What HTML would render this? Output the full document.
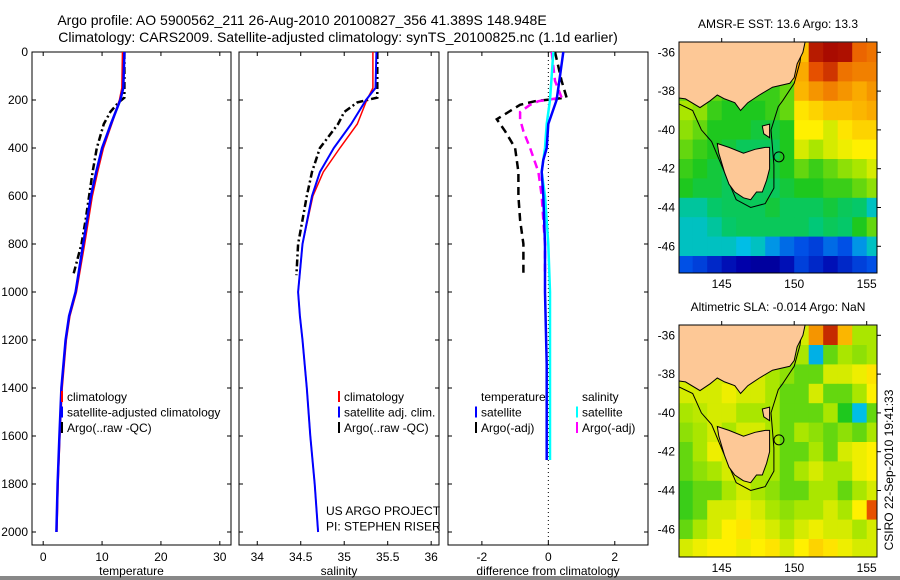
<!DOCTYPE html>
<html><head><meta charset="utf-8"><style>
body{margin:0;background:#fff;}
svg{display:block;font-family:"Liberation Sans",sans-serif;}
text{font-size:12px;fill:#000;}
</style></head><body>
<svg id="fig" width="900" height="580" viewBox="0 0 900 580" xmlns="http://www.w3.org/2000/svg">
<rect x="0" y="0" width="900" height="580" fill="#fff"/>
<text x="302" y="25" text-anchor="middle" style="font-size:14px">Argo profile: AO 5900562_211 26-Aug-2010 20100827_356 41.389S 148.948E</text>
<text x="338" y="42" text-anchor="middle" style="font-size:14px">Climatology: CARS2009. Satellite-adjusted climatology: synTS_20100825.nc (1.1d earlier)</text>
<rect x="0" y="576" width="900" height="4" fill="#888"/>
</svg>
<script>
// ---- data ----
const depthTicks=[0,200,400,600,800,1000,1200,1400,1600,1800,2000];
const tempTicks=[0,10,20,30];
const salTicks=[34,34.5,35,35.5,36];
const diffTicks=[-2,0,2];
const climDepth=[0,150,200,300,400,500,600,800,1000,1100,1200,1400,1600,1800,2000];
const climTemp=[13.5,13.4,13.0,11.6,10.2,9.2,8.3,7.0,5.6,4.5,3.9,3.2,2.8,2.5,2.3];
const satTemp=[13.8,13.6,13.1,11.5,10.0,9.0,8.1,6.8,5.5,4.4,3.8,3.1,2.75,2.45,2.25];
const climSal=[35.33,35.33,35.26,35.15,34.95,34.76,34.64,34.52,34.47,34.49,34.52,34.57,34.61,34.66,34.70];
const satSal=[35.37,35.36,35.25,35.08,34.88,34.72,34.63,34.52,34.47,34.49,34.52,34.57,34.61,34.66,34.70];
const argoDepth=[0,100,190,210,250,300,400,500,600,700,800,930];
const argoTemp=[13.8,13.8,13.8,12.8,11.4,10.3,9.1,8.4,7.8,7.2,6.5,5.1];
const argoSal=[35.38,35.38,35.38,35.15,35.0,34.93,34.72,34.63,34.57,34.52,34.47,34.45];
const difDepth=[0,100,200,300,400,450,500,600,800,1000,1300,1700];
const difSatT=[0.45,0.35,0.25,0.0,-0.05,-0.15,-0.2,-0.15,-0.1,-0.1,-0.05,-0.05];
const difSatS=[0.15,0.1,0.05,-0.05,-0.1,-0.15,-0.2,-0.1,0.0,0.05,0.05,0.05];
const difArgoDepth=[0,60,120,190,205,220,250,280,330,400,500,600,700,800,930];
const difArgoT=[0.2,0.3,0.4,0.55,-0.4,-0.85,-1.2,-1.55,-1.3,-1.0,-0.9,-0.9,-0.85,-0.75,-0.75];
const difArgoS=[0.1,0.15,0.2,0.4,-0.3,-0.55,-0.85,-0.85,-0.75,-0.55,-0.3,-0.2,-0.15,-0.1,-0.1];
const mapLon=[142,143,144,145,146,147,148,149,150,151,152,153,154,155];
const mapLat=[-35.5,-36.5,-37.5,-38.5,-39.5,-40.5,-41.5,-42.5,-43.5,-44.5,-45.5,-46.5];
const sstGrid=[
[.5,.5,.5,.5,.5,.5,.5,.5,.68,.95,.98,.97,.82,.8],
[.5,.5,.5,.5,.5,.5,.5,.55,.72,.85,.9,.8,.78,.78],
[.45,.45,.45,.42,.42,.42,.42,.45,.7,.75,.78,.75,.72,.75],
[.5,.48,.42,.4,.4,.4,.42,.45,.62,.65,.68,.68,.7,.72],
[.48,.45,.4,.4,.4,.38,.38,.4,.6,.6,.55,.62,.65,.65],
[.45,.42,.4,.38,.36,.36,.36,.4,.55,.5,.55,.58,.6,.6],
[.42,.4,.38,.36,.36,.36,.38,.4,.45,.42,.45,.48,.5,.55],
[.4,.38,.38,.36,.36,.36,.36,.38,.4,.4,.42,.42,.45,.48],
[.32,.32,.35,.36,.36,.36,.38,.36,.36,.36,.38,.36,.35,.3],
[.3,.3,.32,.35,.36,.36,.36,.36,.36,.34,.36,.35,.4,.45],
[.3,.3,.3,.3,.28,.3,.25,.22,.2,.18,.22,.2,.25,.3],
[.2,.18,.15,.12,.1,.08,.08,.12,.18,.15,.12,.15,.18,.2]];
const slaGrid=[
[.5,.5,.5,.5,.5,.5,.5,.5,.55,.75,.92,.7,.5,.5],
[.5,.5,.5,.5,.5,.5,.5,.5,.5,.27,.45,.5,.48,.5],
[.55,.58,.55,.55,.6,.55,.5,.48,.45,.45,.55,.55,.58,.62],
[.55,.55,.55,.58,.55,.55,.5,.45,.45,.55,.45,.45,.5,.6],
[.5,.52,.55,.55,.5,.5,.5,.45,.45,.45,.5,.4,.28,.45],
[.48,.5,.55,.5,.55,.55,.5,.45,.5,.48,.45,.48,.45,.5],
[.45,.5,.58,.55,.55,.55,.5,.45,.45,.5,.45,.55,.58,.6],
[.45,.48,.5,.55,.5,.5,.5,.45,.5,.55,.5,.5,.58,.6],
[.42,.45,.45,.5,.55,.5,.48,.45,.45,.5,.5,.45,.5,.55],
[.42,.45,.55,.55,.58,.55,.5,.48,.5,.5,.55,.5,.6,.85],
[.45,.5,.55,.6,.62,.58,.55,.5,.55,.58,.55,.55,.5,.55],
[.55,.58,.6,.6,.58,.6,.62,.55,.6,.65,.62,.58,.55,.55]];
const mainlandLon=[150.8,150.6,150.2,150,149.7,148.5,147.6,146.8,146.3,145.9,145.2,144.7,144.2,143.5,142.5,141.5,141.5];
const mainlandLat=[-35.3,-36,-36.6,-37.3,-37.6,-37.8,-38.2,-38.6,-39,-38.6,-38.4,-38.2,-38.5,-38.85,-38.4,-38.3,-35.3];
const tasLon=[144.7,145.5,146.5,147.3,148.0,148.3,148.3,148.1,147.8,147.4,147.0,146.5,145.9,145.5,145.2,144.8];
const tasLat=[-40.7,-40.9,-41.2,-41.0,-40.9,-40.9,-42.0,-42.6,-43.2,-43.2,-43.6,-43.5,-43.2,-42.8,-42.2,-41.2];
const flindersLon=[147.8,148.3,148.3,147.9];
const flindersLat=[-39.8,-39.7,-40.4,-40.2];
const shelfLon=[141.6,143.0,143.6,144.3,145.2,146.0,147.0,148.0,148.6,148.6,148.4,148.9,149.2,150.0,150.4,150.6];
const shelfLat=[-38.5,-39.0,-40.0,-40.6,-42.2,-43.6,-44.0,-43.8,-43.0,-41.8,-40.0,-38.8,-38.5,-37.6,-36.5,-35.3];
const argoLon=148.948, argoLat=-41.389;

// ---- helpers ----
const svg=document.getElementById('fig');
const NS='http://www.w3.org/2000/svg';
function mk(tag,attrs,parent){const e=document.createElementNS(NS,tag);for(const k in attrs)e.setAttribute(k,attrs[k]);(parent||svg).appendChild(e);return e;}
function txt(x,y,s,anchor,parent){const t=mk('text',{x:x,y:y,'text-anchor':anchor||'start'},parent);t.textContent=s;return t;}
const Y0=52,Y1=545;
function yDepth(d){return 52+d*0.24;}

function panel(name,x0,x1,xmin,xmax,ticks,tickFmt,title,leftLabels){
  const g=mk('g',{});
  
  
  const sx=v=>x0+(v-xmin)/(xmax-xmin)*(x1-x0);
  const box=mk('rect',{x:x0,y:Y0,width:x1-x0,height:Y1-Y0,fill:'none',stroke:'#000','stroke-width':1},g);
  
  
  ticks.forEach(v=>{const X=sx(v);
    mk('line',{x1:X,x2:X,y1:Y1,y2:Y1-4,stroke:'#000'},g);
    mk('line',{x1:X,x2:X,y1:Y0,y2:Y0+4,stroke:'#000'},g);
    const t=txt(X,561,tickFmt(v),'middle',g);
    
    });
  depthTicks.forEach(d=>{const Y=yDepth(d);
    mk('line',{x1:x0,x2:x0+4,y1:Y,y2:Y,stroke:'#000'},g);
    mk('line',{x1:x1,x2:x1-4,y1:Y,y2:Y,stroke:'#000'},g);
    if(leftLabels){const t=txt(28,Y+4,String(d),'end',g);
      
      }});
  const tt=txt((x0+x1)/2,575,title,'middle',g);
  
  
  return {g,sx};
}
function line(p,depths,vals,color,w,dash,name){
  const pts=depths.map((d,i)=>p.sx(vals[i]).toFixed(1)+','+yDepth(d).toFixed(1)).join(' ');
  const l=mk('polyline',{points:pts,fill:'none',stroke:color,'stroke-width':w,'stroke-dasharray':dash||'none'},p.g);
  
  
}
function legend(p,x,y,items){
  items.forEach((it,i)=>{const Y=y+i*15.5;
    if(it.c){const m=mk('line',{x1:x-5,x2:x-5,y1:Y-10,y2:Y+1,stroke:it.c,'stroke-width':2},p.g);
      
      }
    const t=txt(x,Y,it.t,'start',p.g);
    
    });
}

// temperature panel
const pT=panel('temperature-panel',32,231,-1.9,31.9,tempTicks,v=>String(v),'temperature',true);
line(pT,argoDepth,argoTemp,'#000',2.5,'7,3,2,3','argo-temperature-line');
line(pT,climDepth,climTemp,'#f00',2,null,'climatology-temperature-line');
line(pT,climDepth,satTemp,'#00f',2.5,null,'satellite-temperature-line');
legend(pT,67,401,[{c:'#f00',t:'climatology'},{c:'#00f',t:'satellite-adjusted climatology'},{c:'#000',t:'Argo(..raw -QC)'}]);

// salinity panel
const pS=panel('salinity-panel',239,439,33.79,36.09,salTicks,v=>String(v),'salinity',false);
line(pS,argoDepth,argoSal,'#000',2.5,'7,3,2,3','argo-salinity-line');
line(pS,climDepth,climSal,'#f00',1.5,null,'climatology-salinity-line');
line(pS,climDepth,satSal,'#00f',2,null,'satellite-salinity-line');
legend(pS,344,401,[{c:'#f00',t:'climatology'},{c:'#00f',t:'satellite adj. clim.'},{c:'#000',t:'Argo(..raw -QC)'}]);
legend(pS,326,515,[{t:'US ARGO PROJECT'},{t:'PI: STEPHEN RISER'}]);

// difference panel
const pD=panel('difference-panel',448,648,-3.02,3.0,diffTicks,v=>String(v),'difference from climatology',false);
const zx=pD.sx(0);
mk('line',{x1:zx,x2:zx,y1:Y0,y2:Y1,stroke:'#000','stroke-width':1,'stroke-dasharray':'1,3'},pD.g);
line(pD,difArgoDepth,difArgoT,'#000',2.5,'8,5','argo-temperature-diff-line');
line(pD,difArgoDepth,difArgoS,'#f0f',2.5,'8,5','argo-salinity-diff-line');
line(pD,difDepth,difSatS,'#0ff',2.5,null,'satellite-salinity-diff-line');
line(pD,difDepth,difSatT,'#00f',2.5,null,'satellite-temperature-diff-line');
legend(pD,481,401,[{t:'temperature'},{c:'#00f',t:'satellite'},{c:'#000',t:'Argo(-adj)'}]);
legend(pD,582,401,[{t:'salinity'},{c:'#0ff',t:'satellite'},{c:'#f0f',t:'Argo(-adj)'}]);

// maps
const cmapStops=[[0,0,0,110],[0.1,0,0,170],[0.2,0,80,230],[0.28,0,190,230],[0.34,0,200,120],[0.4,30,200,30],[0.5,170,230,0],[0.6,255,240,0],[0.72,250,170,0],[0.85,230,80,0],[1,160,0,0]];
function cmap(v){v=Math.max(0,Math.min(1,v));
  for(let i=1;i<cmapStops.length;i++){const a=cmapStops[i-1],b=cmapStops[i];
    if(v<=b[0]){const t=(v-a[0])/(b[0]-a[0]);
      return 'rgb('+[1,2,3].map(k=>Math.round(a[k]+(b[k]-a[k])*t)).join(',')+')';}}
  return 'rgb(160,0,0)';}
let clipN=0;
function map(name,top,bottom,grid,title){
  const x0=679,x1=877;
  const g=mk('g',{});
  
  
  const latRef=top+10.3;
  const lx=lon=>721.7+(lon-145)*14.5;
  const ly=lat=>latRef+(-36-lat)*19.4;
  const cid='clip'+(clipN++);
  const cp=mk('clipPath',{id:cid},g);mk('rect',{x:x0,y:top,width:x1-x0,height:bottom-top},cp);
  const inner=mk('g',{'clip-path':'url(#'+cid+')'},g);
  grid.forEach((row,i)=>row.forEach((v,j)=>{
    const c=mk('rect',{x:lx(mapLon[j]),y:ly(mapLat[i]),width:15,height:19.9,fill:cmap(v)},inner);
    
    }));
  const poly=(lons,lats,fill,nm,close)=>{const p=mk(close?'polygon':'polyline',{points:lons.map((l,i)=>lx(l).toFixed(1)+','+ly(lats[i]).toFixed(1)).join(' '),fill:fill,stroke:'#000','stroke-width':1},inner);
    };
  poly(shelfLon,shelfLat,'none','isobath-contour',false);
  poly(mainlandLon,mainlandLat,'#fdc896','mainland-australia',true);
  poly(tasLon,tasLat,'#fdc896','tasmania',true);
  poly(flindersLon,flindersLat,'#fdc896','flinders-island',true);
  const ci=mk('circle',{cx:lx(argoLon),cy:ly(argoLat),r:5,fill:'none',stroke:'#000'},inner);
  
  
  const fr=mk('rect',{x:x0,y:top,width:x1-x0,height:bottom-top,fill:'none',stroke:'#000'},g);
  
  
  [145,150,155].forEach(l=>{const X=lx(l);
    mk('line',{x1:X,x2:X,y1:top,y2:top-4,stroke:'#000'},g);
    const t=txt(X,bottom+15,String(l),'middle',g);
    
    });
  [-36,-38,-40,-42,-44,-46].forEach(l=>{const Y=ly(l);
    mk('line',{x1:x1,x2:x1+4,y1:Y,y2:Y,stroke:'#000'},g);
    const t=txt(675,Y+4,String(l),'end',g);
    
    });
  const tt=txt(778,top-14,title,'middle',g);
  
  
}
map('sst-map',42,273,sstGrid,'AMSR-E SST: 13.6 Argo: 13.3');
map('sla-map',325,557,slaGrid,'Altimetric SLA: -0.014 Argo: NaN');
const cs=txt(0,0,'CSIRO 22-Sep-2010 19:41:33','middle');
cs.setAttribute('transform','translate(893,470) rotate(-90)');


</script>
</body></html>
